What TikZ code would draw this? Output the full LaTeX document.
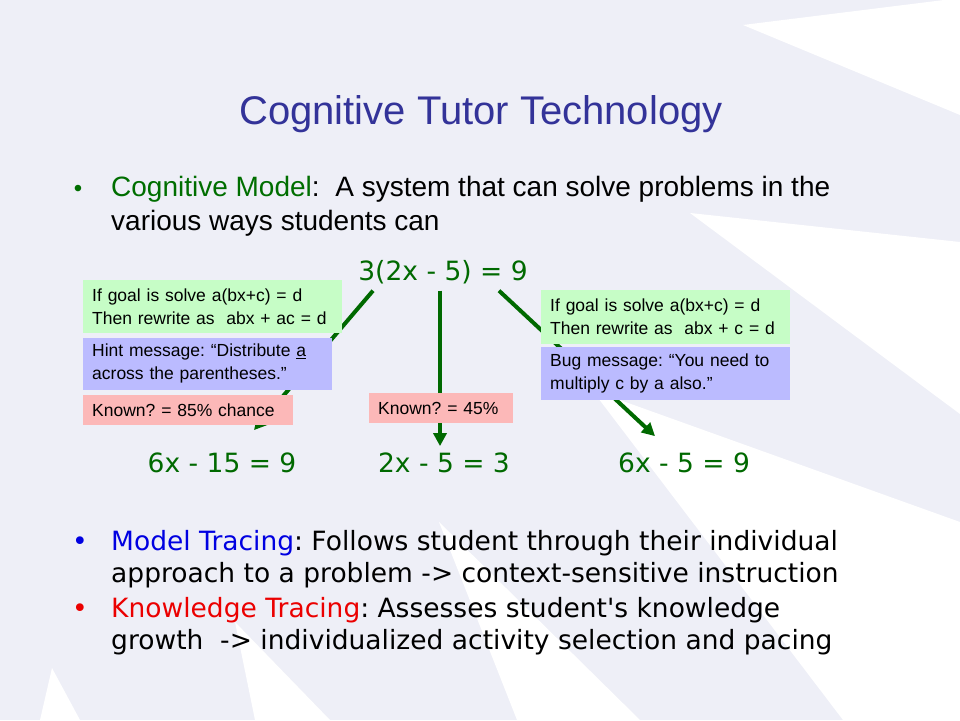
\documentclass[tikz,border=0pt]{standalone}
\usepackage{fontspec}
\setmainfont{Liberation Sans}
\newfontfamily\verdana[Ligatures=TeXOff]{DejaVu Sans}
\usetikzlibrary{arrows.meta, positioning}
\frenchspacing

\definecolor{slidebg}{RGB}{238,239,247}
\definecolor{titleblue}{RGB}{51,51,153}
\definecolor{modelgreen}{RGB}{0,110,0}
\definecolor{eqgreen}{RGB}{0,105,0}
\definecolor{rulegreen}{RGB}{198,253,198}
\definecolor{msgblue}{RGB}{187,187,255}
\definecolor{knownred}{RGB}{252,184,184}
\definecolor{tracingblue}{RGB}{0,0,225}
\definecolor{tracingred}{RGB}{235,0,0}

\begin{document}
\begin{tikzpicture}[
    x=1pt, y=-1pt,
    eq/.style={text=eqgreen, font=\verdana\fontsize{26.5}{32}\selectfont, inner sep=0pt, anchor=base},
    line/.style={anchor=base west, inner sep=0pt},
    box/.style={anchor=north west, align=left, inner xsep=9pt, inner ysep=0pt, font=\fontsize{17.5}{23}\selectfont},
    rule/.style={box, fill=rulegreen, minimum height=53pt},
    hint/.style={box, fill=msgblue, minimum height=52pt},
    known/.style={box, fill=knownred, minimum height=30pt},
    arrow/.style={-{Triangle[length=13pt, width=13pt]}, line width=4pt, draw=eqgreen}
]
    \useasboundingbox (0,0) rectangle (960,720);
    \fill[slidebg] (0,0) rectangle (960,720);

    % background rays
    \fill[white] (743,25) -- (960,-2) -- (960,115) -- cycle;
    \fill[white] (690,213) -- (960,242) -- (960,414) -- cycle;
    \fill[white] (592,390) -- (960,522) -- (960,720) -- (843,720) -- cycle;
    \fill[white] (439,522) -- (640,720) -- (517,720) -- cycle;
    \fill[white] (235,622) -- (330,720) -- (255,720) -- cycle;
    \fill[white] (52,668) -- (80,720) -- (40,720) -- cycle;

    \node[text=titleblue, font=\fontsize{40}{44}\selectfont, anchor=base, inner sep=0pt] (title) at (481,124) {Cognitive Tutor Technology};

    \node[text=modelgreen, font=\fontsize{24}{28}\selectfont, anchor=base, inner sep=0pt] (dot1) at (78,196) {•};
    \node[line, font=\fontsize{28}{34}\selectfont] (model1) at (111,196) {\textcolor{modelgreen}{Cognitive Model}:\ \ A system that can solve problems in the};
    \node[line, font=\fontsize{28}{34}\selectfont] (model2) at (111,230) {various ways students can};

    % equations
    \node[eq] (eqtop) at (443,280) {3(2x - 5) = 9};
    \node[eq] (eqleft) at (222,472) {6x - 15 = 9};
    \node[eq] (eqmid) at (444,472) {2x - 5 = 3};
    \node[eq] (eqright) at (684,472) {6x - 5 = 9};

    \draw[arrow] ([xshift=-70pt, yshift=-7pt]eqtop.south) -- ([xshift=32pt, yshift=22pt]eqleft.north);
    \draw[arrow] ([xshift=-3pt, yshift=-7pt]eqtop.south) -- ([xshift=-4pt, yshift=6pt]eqmid.north);
    \draw[arrow] ([xshift=56pt, yshift=-7pt]eqtop.south) -- ([xshift=-29pt, yshift=16pt]eqright.north);

    % rule boxes
    \node[rule, text width=241pt] (ruleL) at (83,280) {\mbox{If goal is solve a(bx+c) = d}\\\mbox{Then rewrite as\ \ abx + ac = d}};
    \node[hint, text width=231pt, below=4pt of ruleL.south west, anchor=north west] (hintL) {\mbox{Hint message: “Distribute \underline{a}}\\\mbox{across the parentheses.”}};
    \node[known, text width=192pt, below=5pt of hintL.south west, anchor=north west] (knownL) {Known? = 85\% chance};
    \node[known, text width=126pt] (knownM) at (369,393) {Known? = 45\%};
    \node[rule, text width=231pt, minimum height=54pt] (ruleR) at (541,290) {\mbox{If goal is solve a(bx+c) = d}\\\mbox{Then rewrite as\ \ abx + c = d}};
    \node[hint, text width=231pt, minimum height=53pt, below=2pt of ruleR.south west, anchor=north west] (bugR) {\mbox{Bug message: “You need to}\\\mbox{multiply c by a also.”}};

    % tracing bullets
    \node[text=tracingblue, font=\verdana\fontsize{26.5}{32}\selectfont, anchor=base, inner sep=0pt] (dot2) at (80,550) {•};
    \node[line, font=\verdana\fontsize{26.5}{32}\selectfont] (trace1) at (111,550) {\textcolor{tracingblue}{Model Tracing}: Follows student through their individual};
    \node[line, font=\verdana\fontsize{26.5}{32}\selectfont] (trace2) at (111,582) {approach to a problem -> context-sensitive instruction};
    \node[text=tracingred, font=\verdana\fontsize{26.5}{32}\selectfont, anchor=base, inner sep=0pt] (dot3) at (80,617) {•};
    \node[line, font=\verdana\fontsize{26.5}{32}\selectfont] (know1) at (111,617) {\textcolor{tracingred}{Knowledge Tracing}: Assesses student's knowledge};
    \node[line, font=\verdana\fontsize{26.5}{32}\selectfont] (know2) at (111,649) {growth\ \ -> individualized activity selection and pacing};
\end{tikzpicture}
\end{document}
